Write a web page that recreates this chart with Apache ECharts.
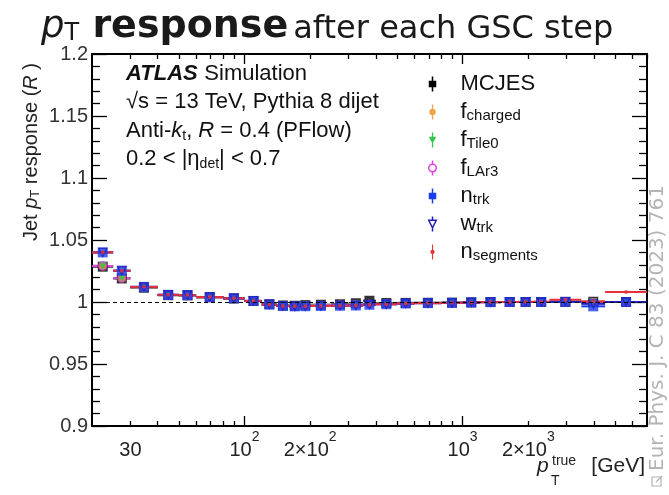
<!DOCTYPE html>
<html><head><meta charset="utf-8">
<script src="https://cdn.jsdelivr.net/npm/echarts@6/dist/echarts.min.js"></script>
<style>html,body{margin:0;padding:0;background:#fff}#c{width:669px;height:495px}</style>
</head><body><div id="c"></div>
<script>
// ---- data ----
const ptLow    = [20,25,30,40,50,60,80,100,120,140,160,180,200,250,300,350,400,500,600,800,1000,1200,1500,1800,2100,2500,3500,4500];
const ptHigh   = [25,30,40,50,60,80,100,120,140,160,180,200,250,300,350,400,500,600,800,1000,1200,1500,1800,2100,2500,3500,4500,7000];
const ptCenter = [22.4,27.4,34.6,44.7,54.8,69.3,89.4,110,130,150,170,190,224,274,324,374,447,548,693,894,1095,1342,1643,1944,2291,2958,3969,5612];

const respMCJES    = [1.0285,1.0190,1.0115,1.0055,1.0053,1.0038,1.0028,1.0008,0.9982,0.9972,0.9970,0.9975,0.9978,0.9982,0.9990,1.0010,0.9992,0.9993,0.9994,0.9995,0.9997,1.0000,1.0000,1.0000,1.0000,1.0000,1.0002,1.0000];
const respFcharged = [1.0290,1.0192,1.0116,1.0055,1.0054,1.0038,1.0028,1.0008,0.9981,0.9970,0.9968,0.9972,0.9975,0.9978,0.9982,0.9985,0.9988,0.9990,0.9992,0.9994,0.9996,0.9999,1.0000,1.0000,1.0000,1.0000,1.0000,1.0000];
const respFTile0   = [1.0290,1.0193,1.0117,1.0056,1.0054,1.0038,1.0029,1.0008,0.9980,0.9969,0.9967,0.9970,0.9973,0.9976,0.9980,0.9983,0.9987,0.9990,0.9992,0.9994,0.9996,0.9999,1.0000,1.0000,1.0000,1.0000,1.0000,1.0000];
const respFLAr3    = [1.0290,1.0193,1.0118,1.0056,1.0054,1.0038,1.0029,1.0008,0.9980,0.9969,0.9966,0.9969,0.9972,0.9975,0.9978,0.9982,0.9986,0.9989,0.9991,0.9993,0.9996,0.9999,1.0000,1.0000,1.0000,1.0000,0.9995,1.0000];
const respNtrk     = [1.0400,1.0253,1.0122,1.0058,1.0056,1.0040,1.0030,1.0009,0.9980,0.9968,0.9965,0.9966,0.9968,0.9970,0.9972,0.9978,0.9982,0.9988,0.9991,0.9993,0.9996,0.9999,1.0000,1.0000,1.0000,1.0000,0.9965,1.0000];
const respWtrk     = [1.0400,1.0252,1.0122,1.0058,1.0056,1.0040,1.0030,1.0009,0.9980,0.9968,0.9965,0.9966,0.9968,0.9970,0.9972,0.9978,0.9982,0.9988,0.9991,0.9993,0.9996,0.9999,1.0000,1.0000,1.0000,1.0005,0.9985,1.0000];
const respNseg     = [1.0400,1.0252,1.0122,1.0058,1.0056,1.0040,1.0030,1.0009,0.9980,0.9968,0.9965,0.9966,0.9968,0.9970,0.9972,0.9978,0.9982,0.9988,0.9991,0.9993,0.9996,0.9999,1.0000,1.0002,1.0003,1.0018,1.0005,1.0080];

const seriesNames  = ['MCJES','f_charged','f_Tile0','f_LAr3','n_trk','w_trk','n_segments'];
const legendLabels = ['{m|MCJES}','{m|f}{s|charged}','{m|f}{s|Tile0}','{m|f}{s|LAr3}','{m|n}{s|trk}','{m|w}{s|trk}','{m|n}{s|segments}'];

const xTickValues  = [30, 100, 200, 1000, 2000];
const xTickLabels  = ['30', '10^2', '2×10^2', '10^3', '2×10^3'];
const xMinorTicks  = [30,40,50,60,70,80,90,200,300,400,500,600,700,800,900,2000,3000,4000,5000,6000,7000];
const xMajorTicks  = [100, 1000];
const xRange = [20, 7000];
const yRange = [0.9, 1.2];
const yStep = 0.05;

// ---- style ----
const allResp = [respMCJES, respFcharged, respFTile0, respFLAr3, respNtrk, respWtrk, respNseg];
const styles = [
  {color:'#000000', symbol:'rect', size:10, rot:0, hollow:false,
   icon:'path://M4.3,0H5.7V4H8.5V10H5.7V14H4.3V10H1.5V4H4.3Z'},
  {color:'#f4a24a', symbol:'circle', size:8, rot:0, hollow:false,
   icon:'path://M4.4,0H5.6V14H4.4Z M5,4A3,3 0 1 1 4.99,4Z'},
  {color:'#2ec84a', symbol:'triangle', size:8, rot:180, hollow:false,
   icon:'path://M4.4,0H5.6V4H8.5L5,10.5L1.5,4H4.4Z M4.4,10H5.6V14H4.4Z'},
  {color:'#e040e0', symbol:'circle', size:8, rot:0, hollow:true,
   icon:'path://M5,0V3.5 M5,10.5V14 M5,3.5A3.5,3.5 0 1 1 4.99,3.5Z'},
  {color:'#1a3cf0', symbol:'rect', size:10, rot:0, hollow:false,
   icon:'path://M4.3,0H5.7V4H8.5V10H5.7V14H4.3V10H1.5V4H4.3Z'},
  {color:'#2020b8', symbol:'triangle', size:8, rot:180, hollow:true,
   icon:'path://M5,0V3.5 M1.5,3.5H8.5L5,10.5Z M5,10.5V14'},
  {color:'#e8303a', symbol:'circle', size:4, rot:0, hollow:false,
   icon:'path://M4.5,0H5.5V14H4.5Z M5,5A2,2 0 1 1 4.99,5Z'}
];

const lg = Math.log10;
const series = [];
seriesNames.forEach((name, k) => {
  const st = styles[k];
  const vals = allResp[k];
  series.push({
    type:'custom', name, xAxisIndex:0, yAxisIndex:0, silent:true,
    data: vals.map((v,i)=>[ptLow[i], ptHigh[i], v]),
    encode:{x:[0,1], y:2},
    renderItem(params, api){
      const a = api.coord([api.value(0), api.value(2)]);
      const b = api.coord([api.value(1), api.value(2)]);
      return {type:'line', shape:{x1:a[0],y1:a[1],x2:b[0],y2:b[1]}, style:{stroke:st.color, lineWidth:2}};
    }
  });
  const sc = {
    type:'scatter', name, xAxisIndex:0, yAxisIndex:0, silent:true,
    symbol: st.symbol, symbolSize: st.size, symbolRotate: st.rot,
    itemStyle: st.hollow ? {color:'rgba(0,0,0,0)', borderColor:st.color, borderWidth:1.4} : {color:st.color},
    data: ptCenter.map((c,i)=>[c, vals[i]])
  };
  if (k === 0) {
    sc.markLine = {silent:true, symbol:'none', label:{show:false},
      lineStyle:{color:'#000', type:[4,3], width:1.2}, data:[{yAxis:1}]};
  }
  series.push(sc);
});

function richLabel(t){
  const p = t.split('^');
  return p.length > 1 ? '{n|'+p[0]+'}{sup|'+p[1]+'}' : '{n|'+p[0]+'}';
}
function tickAxis(position, values, len, showLine, showLabel){
  return {
    type:'value', position, min: lg(xRange[0]), max: lg(xRange[1]),
    axisLine:{show:showLine, onZero:false, lineStyle:{color:'#000', width:2}},
    axisTick:{show:true, inside:true, length:len, customValues: values.map(lg), lineStyle:{color:'#000', width:1.3}},
    axisLabel: showLabel ? {
      show:true, customValues: xTickValues.map(lg), margin:4,
      formatter:(v)=>{ const i = xTickValues.findIndex(x=>Math.abs(lg(x)-v)<1e-6); return i<0?'':richLabel(xTickLabels[i]); },
      rich:{
        n:{fontFamily:'Liberation Sans, Arial', fontSize:20, color:'#222', lineHeight:30, verticalAlign:'bottom'},
        sup:{fontFamily:'Liberation Sans, Arial', fontSize:14, color:'#222', lineHeight:8, verticalAlign:'top'}
      }
    } : {show:false},
    splitLine:{show:false}
  };
}

const option = {
  animation:false,
  backgroundColor:'#fff',
  title:{
    text:'{p|p}{t|T}{b| response} {n|after each GSC step}',
    left:36, top:1,
    textStyle:{fontWeight:'normal', rich:{
      p:{fontFamily:'DejaVu Sans', fontStyle:'italic', fontWeight:'normal', fontSize:37, color:'#1a1a1a', lineHeight:38.6, verticalAlign:'bottom'},
      t:{fontFamily:'DejaVu Sans', fontWeight:'normal', fontSize:24, color:'#1a1a1a', lineHeight:17.6, verticalAlign:'bottom'},
      b:{fontFamily:'DejaVu Sans', fontWeight:'bold', fontSize:38, color:'#1a1a1a', lineHeight:40, verticalAlign:'bottom'},
      n:{fontFamily:'DejaVu Sans', fontWeight:'normal', fontSize:32, color:'#1a1a1a', lineHeight:35, verticalAlign:'bottom'}
    }}
  },
  grid:{left:92, right:22, top:54, bottom:69, containLabel:false},
  xAxis:[
    {type:'log', logBase:10, min:xRange[0], max:xRange[1], position:'bottom',
     axisLine:{show:false}, axisTick:{show:false}, axisLabel:{show:false}, splitLine:{show:false}, minorTick:{show:false}},
    tickAxis('bottom', xMinorTicks, 5, true, true),
    tickAxis('bottom', xMajorTicks, 10, false, false),
    tickAxis('top', xMinorTicks, 5, true, false),
    tickAxis('top', xMajorTicks, 10, false, false)
  ],
  yAxis:[
    {type:'value', min:yRange[0], max:yRange[1], interval:yStep, position:'left',
     axisLine:{show:true, onZero:false, lineStyle:{color:'#000', width:2}},
     axisTick:{show:true, inside:true, length:15, lineStyle:{color:'#000', width:1.3}},
     minorTick:{show:true, splitNumber:5, length:8, lineStyle:{color:'#000', width:1.3}},
     axisLabel:{fontFamily:'Liberation Sans, Arial', fontSize:20, color:'#333', margin:4},
     splitLine:{show:false}, minorSplitLine:{show:false}},
    {type:'value', min:yRange[0], max:yRange[1], interval:yStep, position:'right',
     axisLine:{show:true, onZero:false, lineStyle:{color:'#000', width:2}},
     axisTick:{show:true, inside:true, length:15, lineStyle:{color:'#000', width:1.3}},
     minorTick:{show:true, splitNumber:5, length:8, lineStyle:{color:'#000', width:1.3}},
     axisLabel:{show:false}, splitLine:{show:false}, minorSplitLine:{show:false}}
  ],
  legend:{
    orient:'vertical', left:423, top:68, itemWidth:46, itemHeight:15, itemGap:6,
    selectedMode:false,
    data: seriesNames.map((n,k)=>{
      const st = styles[k];
      const d = {name:n, icon:st.icon};
      d.itemStyle = st.hollow ? {color:'rgba(0,0,0,0)', borderColor:st.color, borderWidth:1.5}
                              : {color:st.color, borderWidth:0};
      return d;
    }),
    formatter:(name)=>legendLabels[seriesNames.indexOf(name)],
    textStyle:{rich:{
      m:{fontFamily:'Liberation Sans, Arial', fontSize:22, color:'#111', lineHeight:22},
      s:{fontFamily:'Liberation Sans, Arial', fontSize:15, color:'#111', lineHeight:9, verticalAlign:'bottom'}
    }}
  },
  graphic:[
    {type:'text', left:126, top:63, style:{
      text:'{ab|ATLAS}  {n|Simulation}',
      rich:{ab:{fontFamily:'Liberation Sans, Arial', fontWeight:'bold', fontStyle:'italic', fontSize:22, fill:'#111'},
            n:{fontFamily:'Liberation Sans, Arial', fontSize:22, fill:'#111'}}}},
    {type:'text', left:126, top:91, style:{
      text:'√s = 13 TeV, Pythia 8 dijet', font:'22px "Liberation Sans", Arial', fill:'#111'}},
    {type:'text', left:126, top:120, style:{
      text:'{n|Anti-}{i|k}{s|t}{n|, }{i|R}{n| = 0.4 (PFlow)}',
      rich:{n:{fontFamily:'Liberation Sans, Arial', fontSize:22, fill:'#111', lineHeight:24},
            i:{fontFamily:'Liberation Sans, Arial', fontStyle:'italic', fontSize:22, fill:'#111', lineHeight:24},
            s:{fontFamily:'Liberation Sans, Arial', fontSize:14, fill:'#111', lineHeight:10, verticalAlign:'bottom'}}}},
    {type:'text', left:126, top:148, style:{
      text:'{n|0.2 < |η}{s|det}{n|| < 0.7}',
      rich:{n:{fontFamily:'Liberation Sans, Arial', fontSize:22, fill:'#111', lineHeight:24},
            s:{fontFamily:'Liberation Sans, Arial', fontSize:14, fill:'#111', lineHeight:10, verticalAlign:'bottom'}}}},
    // y axis title
    {type:'text', x:31, y:152, rotation:Math.PI/2, style:{
      text:'{n|Jet }{i|p}{s|T}{n| response (}{i|R}{n| )}', align:'center', verticalAlign:'middle',
      rich:{n:{fontFamily:'Liberation Sans, Arial', fontSize:20, fill:'#222', lineHeight:22},
            i:{fontFamily:'Liberation Sans, Arial', fontStyle:'italic', fontSize:20, fill:'#222', lineHeight:22},
            s:{fontFamily:'Liberation Sans, Arial', fontSize:13, fill:'#222', lineHeight:8, verticalAlign:'bottom'}}}},
    // x axis title
    {type:'text', x:537, y:456, style:{text:'p', font:'italic 21px "Liberation Sans", Arial', fill:'#222'}},
    {type:'text', x:552, y:454, style:{text:'true', font:'14px "Liberation Sans", Arial', fill:'#222'}},
    {type:'text', x:551, y:474, style:{text:'T', font:'14px "Liberation Sans", Arial', fill:'#222'}},
    {type:'text', x:645, y:456, style:{text:'[GeV]', font:'21px "Liberation Sans", Arial', fill:'#222', align:'right'}},
    // journal reference
    {type:'text', x:658, y:328, rotation:Math.PI/2, style:{
      text:'Eur. Phys. J. C 83 (2023) 761', font:'20px "DejaVu Sans"', fill:'#b4b4b4', align:'center', verticalAlign:'middle'}},
    {type:'rect', shape:{x:652, y:477, width:9, height:9}, style:{fill:'none', stroke:'#b4b4b4', lineWidth:1.2}},
    {type:'polyline', shape:{points:[[656,482],[662,476]]}, style:{stroke:'#b4b4b4', lineWidth:1.2}}
  ],
  series
};
const chart = echarts.init(document.getElementById('c'), null, {renderer:'canvas'});
chart.setOption(option);
</script>
</body></html>
